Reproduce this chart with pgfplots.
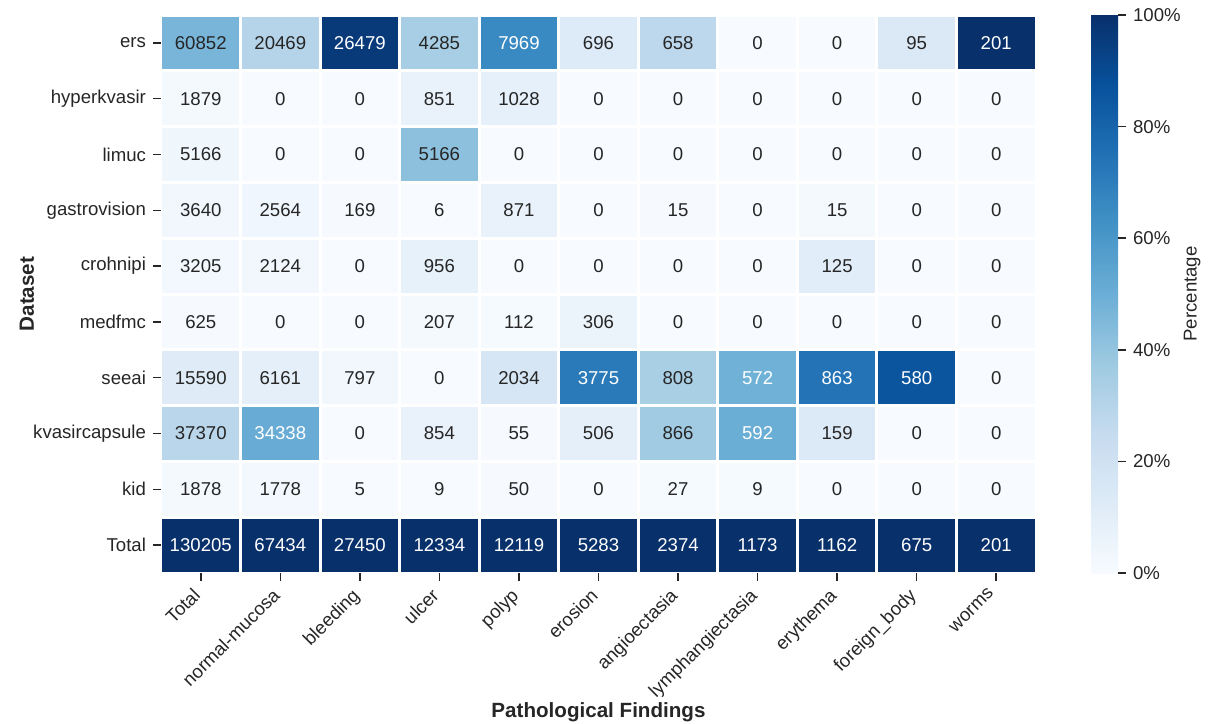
\documentclass[border=0pt]{standalone}
\usepackage{pgfplots}
\pgfplotsset{compat=1.18}
\usepackage{pgfplotstable}
\usepackage{fontspec}
\setmainfont{Liberation Sans}
\definecolor{txt}{RGB}{38,38,38}
\newcommand\fs{\fontsize{9.3}{11}\selectfont}
\newcommand\fl{\fontsize{10.3}{12}\selectfont\bfseries}
\pgfplotstableread{
x y pct val w
0 0 46.74 60852 0
1 0 30.35 20469 0
2 0 96.46 26479 1
3 0 34.74 4285 0
4 0 65.76 7969 1
5 0 13.17 696 0
6 0 27.72 658 0
7 0 0 0 0
8 0 0 0 0
9 0 14.07 95 0
10 0 100 201 1
0 1 1.44 1879 0
1 1 0 0 0
2 1 0 0 0
3 1 6.90 851 0
4 1 8.48 1028 0
5 1 0 0 0
6 1 0 0 0
7 1 0 0 0
8 1 0 0 0
9 1 0 0 0
10 1 0 0 0
0 2 3.97 5166 0
1 2 0 0 0
2 2 0 0 0
3 2 41.88 5166 0
4 2 0 0 0
5 2 0 0 0
6 2 0 0 0
7 2 0 0 0
8 2 0 0 0
9 2 0 0 0
10 2 0 0 0
0 3 2.80 3640 0
1 3 3.80 2564 0
2 3 0.62 169 0
3 3 0.05 6 0
4 3 7.19 871 0
5 3 0 0 0
6 3 0.63 15 0
7 3 0 0 0
8 3 1.29 15 0
9 3 0 0 0
10 3 0 0 0
0 4 2.46 3205 0
1 4 3.15 2124 0
2 4 0 0 0
3 4 7.75 956 0
4 4 0 0 0
5 4 0 0 0
6 4 0 0 0
7 4 0 0 0
8 4 10.76 125 0
9 4 0 0 0
10 4 0 0 0
0 5 0.48 625 0
1 5 0 0 0
2 5 0 0 0
3 5 1.68 207 0
4 5 0.92 112 0
5 5 5.79 306 0
6 5 0 0 0
7 5 0 0 0
8 5 0 0 0
9 5 0 0 0
10 5 0 0 0
0 6 11.97 15590 0
1 6 9.14 6161 0
2 6 2.90 797 0
3 6 0 0 0
4 6 16.78 2034 0
5 6 71.46 3775 1
6 6 34.04 808 0
7 6 48.76 572 1
8 6 74.27 863 1
9 6 85.93 580 1
10 6 0 0 0
0 7 28.70 37370 0
1 7 50.92 34338 1
2 7 0 0 0
3 7 6.92 854 0
4 7 0.45 55 0
5 7 9.58 506 0
6 7 36.48 866 0
7 7 50.47 592 1
8 7 13.68 159 0
9 7 0 0 0
10 7 0 0 0
0 8 1.44 1878 0
1 8 2.64 1778 0
2 8 0.02 5 0
3 8 0.07 9 0
4 8 0.41 50 0
5 8 0 0 0
6 8 1.14 27 0
7 8 0.77 9 0
8 8 0 0 0
9 8 0 0 0
10 8 0 0 0
0 9 100 130205 1
1 9 100 67434 1
2 9 100 27450 1
3 9 100 12334 1
4 9 100 12119 1
5 9 100 5283 1
6 9 100 2374 1
7 9 100 1173 1
8 9 100 1162 1
9 9 100 675 1
10 9 100 201 1
}\heat
\begin{document}
\begin{tikzpicture}
\begin{axis}[name=main, scale only axis, width=437.5pt, height=279pt,
  xmin=-0.5, xmax=10.5, ymin=-0.5, ymax=9.5, y dir=reverse,
  colormap={blues}{rgb255=(247,251,255) rgb255=(222,235,247) rgb255=(198,219,239) rgb255=(158,202,225) rgb255=(107,174,214) rgb255=(66,146,198) rgb255=(33,113,181) rgb255=(8,81,156) rgb255=(8,48,107)},
  point meta min=0, point meta max=100,
  xtick={0,...,10}, ytick={0,...,9},
  xticklabels={Total,normal-mucosa,bleeding,ulcer,polyp,erosion,angioectasia,lymphangiectasia,erythema,foreign\_body,worms},
  yticklabels={ers,hyperkvasir,limuc,gastrovision,crohnipi,medfmc,seeai,kvasircapsule,kid,Total},
  tick pos=left,
  tick align=outside, major tick length=4pt, minor tick length=0pt,
  major tick style={txt, line width=0.75pt},
  axis line style={draw=none},
  ticklabel style={font=\fs, text=txt},
  xticklabel style={xshift=-4.5pt, rotate=45, anchor=north east, inner sep=2pt},
  minor xtick={-0.5,0.5,...,10.5}, minor ytick={-0.5,0.5,...,9.5},
  minor grid style={white, line width=1.5pt}, xminorgrids=true, yminorgrids=true,
  axis on top,
  xlabel={Pathological Findings}, ylabel={Dataset},
  every axis x label/.style={at={(axis description cs:0.5,0)}, anchor=center, yshift=-69.5pt, font=\fl, text=txt},
  every axis y label/.style={at={(axis description cs:0,0.5)}, anchor=center, xshift=-67pt, rotate=90, font=\fl, text=txt},
  colorbar,
  colorbar style={at={(parent axis.north east)}, anchor=north west, xshift=19pt,
    width=13.5pt,
    ytick={0,20,...,100},
    yticklabel={\pgfmathprintnumber{\tick}\%},
    /pgf/number format/assume math mode=true,
    axis line style={draw=none},
    tick pos=right,
    tick align=outside, major tick length=4pt,
    major tick style={txt, line width=0.75pt},
    yticklabel style={font=\fs, text=txt},
    ylabel={Percentage},
    every axis y label/.style={at={(axis description cs:1,0.5)}, anchor=center, xshift=37pt, rotate=90, font=\fs, text=txt},
  },
]
\addplot[matrix plot*, mesh/cols=11, point meta=explicit] table[x=x, y=y, meta=pct]{\heat};
\addplot[only marks, mark=none, point meta=explicit symbolic,
  nodes near coords, nodes near coords align=center,
  every node near coord/.append style={font=\fs, text=txt, anchor=center},
  restrict expr to domain={\thisrow{w}}{-0.5:0.5}] table[x=x, y=y, meta=val]{\heat};
\addplot[only marks, mark=none, point meta=explicit symbolic,
  nodes near coords, nodes near coords align=center,
  every node near coord/.append style={font=\fs, text=white, anchor=center},
  restrict expr to domain={\thisrow{w}}{0.5:1.5}] table[x=x, y=y, meta=val]{\heat};
\end{axis}
\pgfresetboundingbox
\path ([shift={(-80.5pt,-75pt)}]main.south west) rectangle ([shift={(525.5pt,7.5pt)}]main.north west);
\end{tikzpicture}
\end{document}
